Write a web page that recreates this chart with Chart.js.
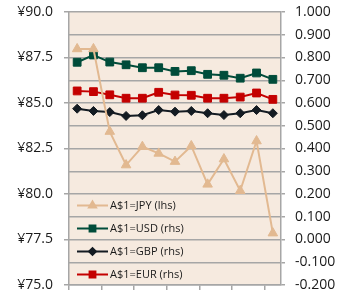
<!DOCTYPE html>
<html>
<head>
<meta charset="utf-8">
<script src="https://cdn.jsdelivr.net/npm/chart.js@4/dist/chart.umd.min.js"></script>
<style>
  html, body { margin: 0; padding: 0; background: #fff; }
  #wrap { width: 353px; height: 297px; position: relative; }
</style>
</head>
<body>
<div id="wrap"><canvas id="fxChart"></canvas></div>
<script>
// 13 observations, no x labels shown on the chart
const periods = ['1', '2', '3', '4', '5', '6', '7', '8', '9', '10', '11', '12', '13'];

// A$1 = JPY (left axis, yen)
const jpy = [87.97, 87.97, 83.43, 81.59, 82.60, 82.23, 81.78, 82.64, 80.53, 81.92, 80.18, 82.91, 77.85];
// A$1 = USD / GBP / EUR (right axis)
const usd = [0.779, 0.811, 0.780, 0.768, 0.755, 0.755, 0.739, 0.742, 0.726, 0.722, 0.709, 0.732, 0.704];
const gbp = [0.575, 0.565, 0.560, 0.543, 0.546, 0.569, 0.562, 0.565, 0.555, 0.547, 0.555, 0.569, 0.555];
const eur = [0.653, 0.650, 0.636, 0.621, 0.621, 0.647, 0.635, 0.634, 0.621, 0.621, 0.626, 0.644, 0.616];

const seriesNames = ['A$1=JPY (lhs)', 'A$1=USD (rhs)', 'A$1=GBP (rhs)', 'A$1=EUR (rhs)'];

const gridGray = '#a6a6a6';
const textColor = '#1a1a1a';

// fill the plot area with the beige background
const plotBackground = {
  id: 'plotBackground',
  beforeDraw(chart) {
    const { ctx, chartArea: a } = chart;
    ctx.save();
    ctx.fillStyle = '#f6eadf';
    ctx.fillRect(a.left, a.top, a.right - a.left, a.bottom - a.top);
    ctx.restore();
  }
};

// legend drawn inside the plot, bottom-left, line + marker per series
const insideLegend = {
  id: 'insideLegend',
  afterDatasetsDraw(chart) {
    const ctx = chart.ctx;
    const x0 = 77, x1 = 108, tx = 110;
    const rows = [205.5, 228.5, 251.5, 274.5];
    ctx.save();
    chart.data.datasets.forEach((ds, i) => {
      const y = rows[i];
      ctx.strokeStyle = ds.borderColor;
      ctx.lineWidth = 2;
      ctx.beginPath();
      ctx.moveTo(x0, y);
      ctx.lineTo(x1, y);
      ctx.stroke();
      ctx.fillStyle = ds.borderColor;
      Chart.helpers.drawPoint(ctx, {
        pointStyle: ds.pointStyle,
        radius: ds.pointRadius * 0.75,
        borderWidth: 1
      }, (x0 + x1) / 2, y);
      ctx.fill();
      ctx.fillStyle = textColor;
      ctx.font = '11px "Open Sans"';
      ctx.textBaseline = 'middle';
      ctx.textAlign = 'left';
      ctx.fillText(ds.label, tx, y + 0.5);
    });
    ctx.restore();
  }
};

// keep the plot area fixed: no extra room for half tick labels
const noLabelPadding = (scale) => {
  scale.paddingTop = 0;
  scale.paddingBottom = 0;
};

const ctx = document.getElementById('fxChart').getContext('2d');
new Chart(ctx, {
  type: 'line',
  data: {
    labels: periods,
    datasets: [
      {
        label: seriesNames[0],
        data: jpy,
        yAxisID: 'yL',
        borderColor: '#e2b991',
        backgroundColor: '#e2b991',
        borderWidth: 2,
        pointStyle: 'triangle',
        pointRadius: 5.5,
        pointBorderWidth: 1
      },
      {
        label: seriesNames[1],
        data: usd,
        yAxisID: 'yR',
        borderColor: '#004c3a',
        backgroundColor: '#004c3a',
        borderWidth: 2,
        pointStyle: 'rect',
        pointRadius: 5.5,
        pointBorderWidth: 1
      },
      {
        label: seriesNames[2],
        data: gbp,
        yAxisID: 'yR',
        borderColor: '#141b22',
        backgroundColor: '#141b22',
        borderWidth: 2,
        pointStyle: 'rectRot',
        pointRadius: 4.5,
        pointBorderWidth: 1
      },
      {
        label: seriesNames[3],
        data: eur,
        yAxisID: 'yR',
        borderColor: '#c40000',
        backgroundColor: '#c40000',
        borderWidth: 2,
        pointStyle: 'rect',
        pointRadius: 5.5,
        pointBorderWidth: 1
      }
    ]
  },
  options: {
    responsive: true,
    maintainAspectRatio: false,
    animation: false,
    layout: { padding: { top: 12, left: 0, right: 0, bottom: 0 } },
    plugins: {
      legend: { display: false },
      tooltip: { enabled: false }
    },
    scales: {
      x: {
        offset: true,
        grid: {
          offset: true,
          drawOnChartArea: false,
          drawTicks: true,
          tickLength: 5,
          lineWidth: 1.5,
          color: (c) => (c.index % 2 === 0 && c.index < periods.length ? gridGray : 'rgba(0,0,0,0)')
        },
        border: { display: true, color: gridGray, width: 1.5 },
        ticks: { display: false },
        afterFit: (scale) => {
          scale.height = 12;
          scale.paddingLeft = 0;
          scale.paddingRight = 0;
        }
      },
      yL: {
        position: 'left',
        min: 75,
        max: 90,
        grid: { drawOnChartArea: false, tickLength: 5, color: gridGray, lineWidth: 1.5 },
        border: { display: true, color: gridGray, width: 1.5 },
        ticks: {
          stepSize: 2.5,
          padding: 11,
          color: textColor,
          font: { family: '"Open Sans"', size: 14 },
          callback: (v) => '¥' + Number(v).toFixed(1)
        },
        afterFit: (scale) => { scale.width = 69; noLabelPadding(scale); }
      },
      yR: {
        position: 'right',
        min: -0.2,
        max: 1.0,
        grid: { drawOnChartArea: true, tickLength: 4, color: gridGray, lineWidth: 1.5 },
        border: { display: true, color: gridGray, width: 1.5 },
        ticks: {
          stepSize: 0.1,
          padding: 10,
          color: textColor,
          font: { family: '"Open Sans"', size: 14 },
          callback: (v) => {
            const r = Math.round(v * 10) / 10;
            return (r === 0 ? 0 : r).toFixed(3);
          }
        },
        afterFit: (scale) => { scale.width = 72; noLabelPadding(scale); }
      }
    }
  },
  plugins: [plotBackground, insideLegend]
});
</script>
</body>
</html>
